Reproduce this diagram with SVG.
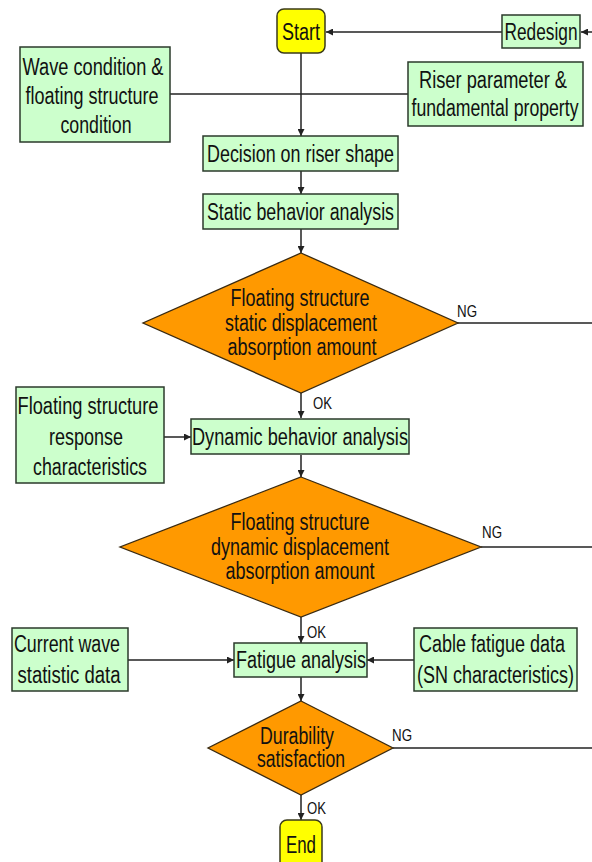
<svg xmlns="http://www.w3.org/2000/svg" width="592" height="862" viewBox="0 0 592 862">
<style>
.box{fill:#ccffcc;stroke:#2b3a2b;stroke-width:1.5}
.term{fill:#ffff00;stroke:#3a3a1a;stroke-width:1.5}
.dia{fill:#ff9900;stroke:#3a2a10;stroke-width:1.3}
.t{font-family:"Liberation Sans Narrow","Liberation Sans",Arial,sans-serif;font-size:23px;fill:#111;text-anchor:middle}
.lbl{font-family:"Liberation Sans Narrow","Liberation Sans",Arial,sans-serif;font-size:16px;fill:#111}
.c{stroke:#222;stroke-width:1.5;fill:none}
</style>
<defs>
<marker id="ah" viewBox="0 0 10 10" refX="10" refY="5" markerWidth="7" markerHeight="7" markerUnits="userSpaceOnUse" orient="auto">
<path d="M0,0 L10,5 L0,10 z" fill="#222"/>
</marker>
</defs>
<rect width="592" height="862" fill="#ffffff"/>
<g id="connectors">
<line class="c" x1="592" y1="32" x2="581" y2="32" marker-end="url(#ah)"/>
<line class="c" x1="502" y1="32" x2="326" y2="32" marker-end="url(#ah)"/>
<line class="c" x1="301" y1="53" x2="301" y2="136" marker-end="url(#ah)"/>
<line class="c" x1="170" y1="94" x2="408" y2="94"/>
<line class="c" x1="301" y1="171" x2="301" y2="194" marker-end="url(#ah)"/>
<line class="c" x1="301" y1="229" x2="301" y2="253" marker-end="url(#ah)"/>
<line class="c" x1="301" y1="393" x2="301" y2="418" marker-end="url(#ah)"/>
<line class="c" x1="457" y1="323" x2="592" y2="323"/>
<line class="c" x1="164" y1="437" x2="191" y2="437" marker-end="url(#ah)"/>
<line class="c" x1="301" y1="455" x2="301" y2="477" marker-end="url(#ah)"/>
<line class="c" x1="481" y1="547" x2="592" y2="547"/>
<line class="c" x1="301" y1="617" x2="301" y2="643" marker-end="url(#ah)"/>
<line class="c" x1="128" y1="660" x2="234" y2="660" marker-end="url(#ah)"/>
<line class="c" x1="414" y1="660" x2="367" y2="660" marker-end="url(#ah)"/>
<line class="c" x1="301" y1="677" x2="301" y2="701" marker-end="url(#ah)"/>
<line class="c" x1="393" y1="748" x2="592" y2="748"/>
<line class="c" x1="301" y1="795" x2="301" y2="820" marker-end="url(#ah)"/>
<text class="lbl" x="457" y="317" textLength="20" lengthAdjust="spacingAndGlyphs">NG</text>
<text class="lbl" x="313" y="409" textLength="19" lengthAdjust="spacingAndGlyphs">OK</text>
<text class="lbl" x="482" y="538" textLength="20" lengthAdjust="spacingAndGlyphs">NG</text>
<text class="lbl" x="307" y="638" textLength="19" lengthAdjust="spacingAndGlyphs">OK</text>
<text class="lbl" x="392" y="741" textLength="20" lengthAdjust="spacingAndGlyphs">NG</text>
<text class="lbl" x="307" y="814" textLength="19" lengthAdjust="spacingAndGlyphs">OK</text>
</g>
<g id="start">
<rect class="term" x="277" y="9" width="48" height="44" rx="7"/>
<text class="t" x="301" y="40" textLength="38" lengthAdjust="spacingAndGlyphs">Start</text>
</g>
<g id="redesign">
<rect class="box" x="502" y="15" width="78" height="33"/>
<text class="t" x="541" y="40" textLength="73" lengthAdjust="spacingAndGlyphs">Redesign</text>
</g>
<g id="wave">
<rect class="box" x="20" y="47" width="150" height="95"/>
<text class="t" x="93" y="75" textLength="141" lengthAdjust="spacingAndGlyphs">Wave condition &amp;</text>
<text class="t" x="92" y="104" textLength="133" lengthAdjust="spacingAndGlyphs">floating structure</text>
<text class="t" x="96" y="133" textLength="71" lengthAdjust="spacingAndGlyphs">condition</text>
</g>
<g id="riser">
<rect class="box" x="408" y="62" width="175" height="64"/>
<text class="t" x="493" y="88" textLength="148" lengthAdjust="spacingAndGlyphs">Riser parameter &amp;</text>
<text class="t" x="495" y="116" textLength="167" lengthAdjust="spacingAndGlyphs">fundamental property</text>
</g>
<g id="decision">
<rect class="box" x="203" y="136" width="195" height="35"/>
<text class="t" x="300.5" y="162" textLength="187" lengthAdjust="spacingAndGlyphs">Decision on riser shape</text>
</g>
<g id="static">
<rect class="box" x="203" y="194" width="195" height="35"/>
<text class="t" x="300.5" y="220" textLength="187" lengthAdjust="spacingAndGlyphs">Static behavior analysis</text>
</g>
<g id="check1">
<polygon class="dia" points="301,253 458,323 301,393 143,323"/>
<text class="t" x="300" y="306" textLength="139" lengthAdjust="spacingAndGlyphs">Floating structure</text>
<text class="t" x="301" y="331" textLength="152" lengthAdjust="spacingAndGlyphs">static displacement</text>
<text class="t" x="302" y="355" textLength="149" lengthAdjust="spacingAndGlyphs">absorption amount</text>
</g>
<g id="response">
<rect class="box" x="16" y="387" width="148" height="96"/>
<text class="t" x="88" y="414" textLength="141" lengthAdjust="spacingAndGlyphs">Floating structure</text>
<text class="t" x="86" y="445" textLength="74" lengthAdjust="spacingAndGlyphs">response</text>
<text class="t" x="90" y="475" textLength="114" lengthAdjust="spacingAndGlyphs">characteristics</text>
</g>
<g id="dynamic">
<rect class="box" x="191" y="419" width="218" height="35"/>
<text class="t" x="300" y="445" textLength="216" lengthAdjust="spacingAndGlyphs">Dynamic behavior analysis</text>
</g>
<g id="check2">
<polygon class="dia" points="301,477 481,547 301,617 120,547"/>
<text class="t" x="300" y="530" textLength="139" lengthAdjust="spacingAndGlyphs">Floating structure</text>
<text class="t" x="300" y="555" textLength="178" lengthAdjust="spacingAndGlyphs">dynamic displacement</text>
<text class="t" x="300" y="579" textLength="149" lengthAdjust="spacingAndGlyphs">absorption amount</text>
</g>
<g id="current">
<rect class="box" x="12" y="628" width="116" height="63"/>
<text class="t" x="67" y="652" textLength="106" lengthAdjust="spacingAndGlyphs">Current wave</text>
<text class="t" x="69" y="683" textLength="103" lengthAdjust="spacingAndGlyphs">statistic data</text>
</g>
<g id="fatigue">
<rect class="box" x="234" y="643" width="133" height="34"/>
<text class="t" x="301" y="668" textLength="130" lengthAdjust="spacingAndGlyphs">Fatigue analysis</text>
</g>
<g id="cable">
<rect class="box" x="414" y="628" width="163" height="63"/>
<text class="t" x="492" y="652" textLength="146" lengthAdjust="spacingAndGlyphs">Cable fatigue data</text>
<text class="t" x="495.5" y="683" textLength="157" lengthAdjust="spacingAndGlyphs">(SN characteristics)</text>
</g>
<g id="check3">
<polygon class="dia" points="301,701 393,748 301,795 208,748"/>
<text class="t" x="297" y="744" textLength="74" lengthAdjust="spacingAndGlyphs">Durability</text>
<text class="t" x="301" y="767" textLength="88" lengthAdjust="spacingAndGlyphs">satisfaction</text>
</g>
<g id="end">
<rect class="term" x="280" y="820" width="42" height="50" rx="7"/>
<text class="t" x="301" y="853" textLength="30" lengthAdjust="spacingAndGlyphs">End</text>
</g>
</svg>
